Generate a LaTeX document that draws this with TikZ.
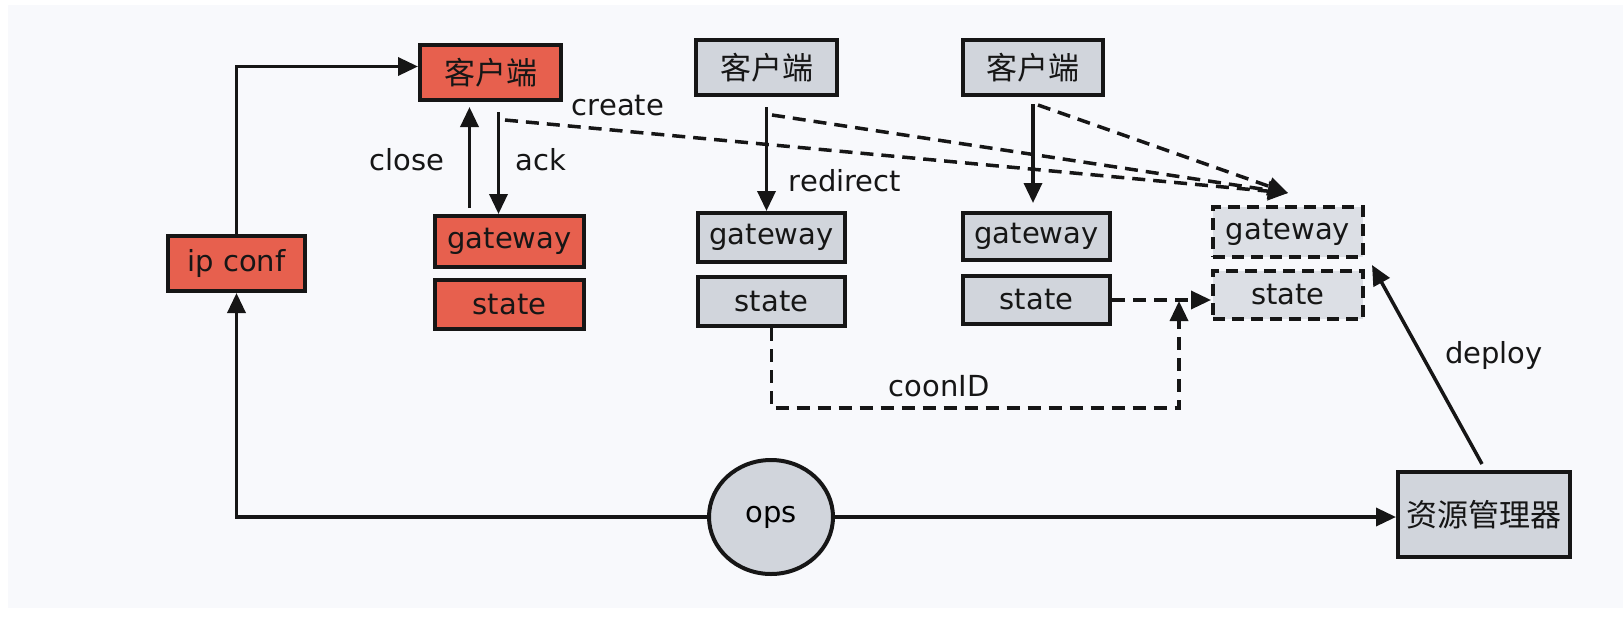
\documentclass[tikz,border=0pt]{standalone}
\usepackage{fontspec}
\setmainfont{DejaVu Sans}
\newfontfamily\cjk{Noto Sans CJK SC}
\usetikzlibrary{arrows.meta,positioning,shapes.geometric}

\definecolor{panel}{RGB}{248,249,252}
\definecolor{redfill}{RGB}{231,96,78}
\definecolor{grayfill}{RGB}{209,213,220}
\definecolor{ghostfill}{RGB}{220,223,229}
\definecolor{ink}{RGB}{22,22,22}

\newcommand{\lat}{\fontsize{29}{32}\selectfont}
\newcommand{\zh}{\cjk\fontsize{31}{34}\selectfont}

\tikzset{
  box/.style={draw=ink, line width=4pt, inner sep=0pt, text=ink, font=\lat},
  redbox/.style={box, fill=redfill},
  graybox/.style={box, fill=grayfill},
  ghostbox/.style={box, fill=ghostfill, dash pattern=on 12pt off 7pt},
  conn/.style={draw=ink, line width=3.5pt, -{Triangle[length=20pt,width=18pt]}},
  dconn/.style={conn, dash pattern=on 13pt off 8pt},
  lbl/.style={text=ink, font=\lat, inner sep=0pt},
}

\begin{document}
\begin{tikzpicture}[x=1pt, y=-1pt]
  \useasboundingbox (0,0) rectangle (1623,622);
  \fill[white] (0,0) rectangle (1623,622);
  \fill[panel] (8,5) rectangle (1623,608);

  % clients
  \node[redbox, minimum width=141pt, minimum height=55pt, font=\zh] (c1) at (490.5,72.5) {客户端};
  \node[graybox, minimum width=141pt, minimum height=55pt, font=\zh] (c2) at (766.5,67.5) {客户端};
  \node[graybox, minimum width=140pt, minimum height=55pt, font=\zh] (c3) at (1033,67.5) {客户端};
  \node[redbox, minimum width=137pt, minimum height=55pt] (ip) at (236.5,263.5) {ip conf};

  % gateway / state pairs
  \node[redbox, minimum width=149pt, minimum height=51pt] (g1) at (509.5,241.5) {gateway};
  \node[redbox, minimum width=149pt, minimum height=49pt, below=9pt of g1] (s1) {state};
  \node[graybox, minimum width=147pt, minimum height=49pt] (g2) at (771.5,237.5) {gateway};
  \node[graybox, minimum width=147pt, minimum height=49pt, below=11pt of g2] (s2) {state};
  \node[graybox, minimum width=147pt, minimum height=47pt] (g3) at (1036.5,236.5) {gateway};
  \node[graybox, minimum width=147pt, minimum height=48pt, below=12pt of g3] (s3) {state};
  \node[ghostbox, minimum width=150pt, minimum height=50pt] (g4) at (1288,232) {gateway};
  \node[ghostbox, minimum width=150pt, minimum height=48pt, below=10pt of g4] (s4) {state};

  % ops and resource manager
  \node[ellipse, draw=ink, line width=4pt, fill=grayfill, minimum width=124pt, minimum height=114pt, inner sep=0pt, font=\lat] (ops) at (771,517) {ops};
  \node[graybox, minimum width=172pt, minimum height=85pt, font=\zh] (rm) at (1484,514.5) {资源管理器};

  % solid connectors
  \draw[conn] (ip.north) |- ([yshift=6pt]c1.west);
  \draw[conn, shorten <=6pt, shorten >=5pt] ([xshift=-40pt]g1.north) -- ([xshift=-40pt]g1.north |- c1.south);
  \draw[conn, shorten <=10pt] ([xshift=8pt]c1.south) -- ([xshift=8pt]c1.south |- g1.north);
  \draw[conn, shorten <=10pt] (c2.south) -- (c2.south |- g2.north);
  \draw[conn, shorten <=7pt, shorten >=8pt] (c3.south) -- (c3.south |- g3.north);
  \draw[conn] (ops.west) -| (ip.south);
  \draw[conn] (ops.east) -- (ops.east -| rm.west);
  \coordinate (dtip) at ([xshift=7pt,yshift=-6pt]g4.south east);
  \draw[conn] ([xshift=-2pt,yshift=6pt]rm.north) -- (dtip);

  % dashed connectors
  \coordinate (tgt) at ([yshift=12pt]g4.north);
  \draw[dconn] ([xshift=14.5pt,yshift=-18pt]c1.south) -- (tgt);
  \draw[dconn] ([xshift=5.5pt,yshift=-18pt]c2.south) -- (tgt);
  \draw[dconn] ([xshift=5pt,yshift=-8pt]c3.south) -- (tgt);
  \draw[dconn] (s3.east) -- (s3.east -| s4.west);
  \coordinate (jn) at (1179,301);
  \coordinate (cb) at (1179,408);
  \draw[dconn] (s2.south) |- (cb) -- (jn);

  % labels
  \node[lbl] (lclose) at (407,160) {close};
  \node[lbl] (lack) at (541,160) {ack};
  \node[lbl] (lcreate) at (618,106) {create};
  \node[lbl] (lredir) at (845,181) {redirect};
  \node[lbl] (lcoon) at (939,386) {coonID};
  \node[lbl] (ldeploy) at (1494,355) {deploy};
\end{tikzpicture}
\end{document}
